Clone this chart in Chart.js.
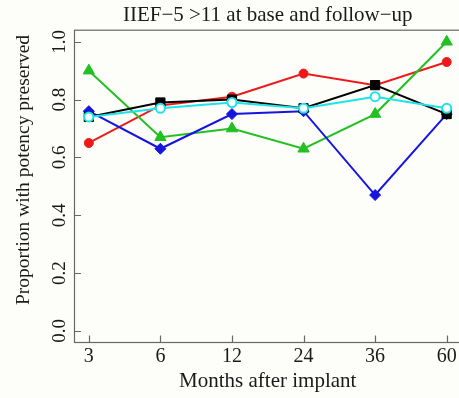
<!DOCTYPE html>
<html>
<head>
<meta charset="utf-8">
<script src="https://cdn.jsdelivr.net/npm/chart.js@4.4.1/dist/chart.umd.min.js"></script>
<style>
html, body { margin: 0; padding: 0; overflow: hidden; background: #fdfdfa; }
#wrap { width: 470px; height: 398px; }
canvas { display: block; }
</style>
</head>
<body>
<div id="wrap"><canvas id="c" width="470" height="398"></canvas></div>
<script>
// ---- data ----
const months = ['3', '6', '12', '24', '36', '60'];
const redSeries   = [0.65, 0.78, 0.81, 0.89, 0.85, 0.93];
const blackSeries = [0.74, 0.79, 0.80, 0.77, 0.85, 0.75];
const greenSeries = [0.90, 0.67, 0.70, 0.63, 0.75, 1.00];
const blueSeries  = [0.76, 0.63, 0.75, 0.76, 0.47, 0.75];
const cyanSeries  = [0.74, 0.77, 0.79, 0.77, 0.81, 0.77];
const yTickValues = [0, 0.2, 0.4, 0.6, 0.8, 1.0];
const yTickLabels = ['0.0', '0.2', '0.4', '0.6', '0.8', '1.0'];
const titleText = 'IIEF\u22125 >11 at base and follow\u2212up';
const xTitle = 'Months after implant';
const yTitle = 'Proportion with potency preserved';

const SERIF = '"Liberation Serif", "DejaVu Serif", serif';
const xPositions = months.map((m, i) => i + 1);
const toPts = arr => arr.map((v, i) => ({ x: xPositions[i], y: v }));

function ds(label, arr, color, style, radius, opts) {
  return Object.assign({
    label, data: toPts(arr), borderColor: color, backgroundColor: color,
    borderWidth: 2, tension: 0, pointStyle: style, pointRadius: radius,
    pointBackgroundColor: color, pointBorderColor: color, pointBorderWidth: 1,
    pointHoverRadius: radius, clip: false
  }, opts || {});
}

const rAxes = {
  id: 'rAxes',
  beforeDatasetsDraw(chart) {
    const { ctx, chartArea: a, scales: { x, y } } = chart;
    ctx.save();
    ctx.strokeStyle = '#666';
    ctx.lineWidth = 1.2;
    ctx.strokeRect(a.left, a.top, a.right - a.left, a.bottom - a.top);
    ctx.beginPath();
    xPositions.forEach(v => {
      const px = Math.round(x.getPixelForValue(v)) + 0.5;
      ctx.moveTo(px, a.bottom); ctx.lineTo(px, a.bottom - 7);
    });
    yTickValues.forEach(v => {
      const py = Math.round(y.getPixelForValue(v)) + 0.5;
      ctx.moveTo(a.left, py); ctx.lineTo(a.left + 6.5, py);
    });
    ctx.stroke();
    ctx.fillStyle = '#1a1a1a';
    ctx.textAlign = 'center';
    ctx.textBaseline = 'alphabetic';
    ctx.font = '19px ' + SERIF;
    yTickValues.forEach((v, i) => {
      const py = y.getPixelForValue(v);
      ctx.save();
      ctx.translate(65, py);
      ctx.rotate(-Math.PI / 2);
      ctx.fillText(yTickLabels[i], 0, 0);
      ctx.restore();
    });
    ctx.font = '19.5px ' + SERIF;
    ctx.save();
    ctx.translate(29, 170);
    ctx.rotate(-Math.PI / 2);
    ctx.fillText(yTitle, 0, 0);
    ctx.restore();
    ctx.restore();
  }
};

new Chart(document.getElementById('c'), {
  type: 'line',
  data: {
    datasets: [
      ds('cyan', cyanSeries, '#1fe3e8', 'circle', 4.5, { pointBackgroundColor: '#ffffff', pointBorderWidth: 2 }),
      ds('black', blackSeries, '#000000', 'rect', 6.5),
      ds('blue', blueSeries, '#1515e0', 'rectRot', 5.5),
      ds('green', greenSeries, '#22c022', 'triangle', 6.5),
      ds('red', redSeries, '#ee1a1a', 'circle', 4.5)
    ]
  },
  options: {
    responsive: false,
    animation: false,
    devicePixelRatio: 1,
    layout: { padding: { left: 0, right: 9, top: 0, bottom: 0 } },
    plugins: {
      legend: { display: false },
      tooltip: { enabled: false },
      title: {
        display: true, text: titleText, fullSize: false,
        color: '#1a1a1a', font: { family: SERIF, size: 21, weight: 'normal' },
        padding: { top: 3, bottom: 2 }
      }
    },
    scales: {
      x: {
        type: 'linear', min: 0.8, max: 6.2,
        afterBuildTicks: s => { s.ticks = xPositions.map(v => ({ value: v })); },
        afterFit: s => { s.height = 55.5; },
        grid: { display: false, drawTicks: false },
        border: { display: false },
        ticks: {
          color: '#1a1a1a', font: { family: SERIF, size: 20 }, padding: 2,
          maxRotation: 0, autoSkip: false,
          callback: v => months[v - 1]
        },
        title: {
          display: true, text: xTitle, color: '#1a1a1a',
          font: { family: SERIF, size: 21 }, padding: { top: 0, bottom: 4 }
        }
      },
      y: {
        type: 'linear', min: -0.04, max: 1.04,
        afterBuildTicks: s => { s.ticks = yTickValues.map(v => ({ value: v })); },
        afterFit: s => { s.width = 74.5; },
        grid: { display: false, drawTicks: false },
        border: { display: false },
        ticks: { display: false }
      }
    }
  },
  plugins: [rAxes]
});
</script>
</body>
</html>
